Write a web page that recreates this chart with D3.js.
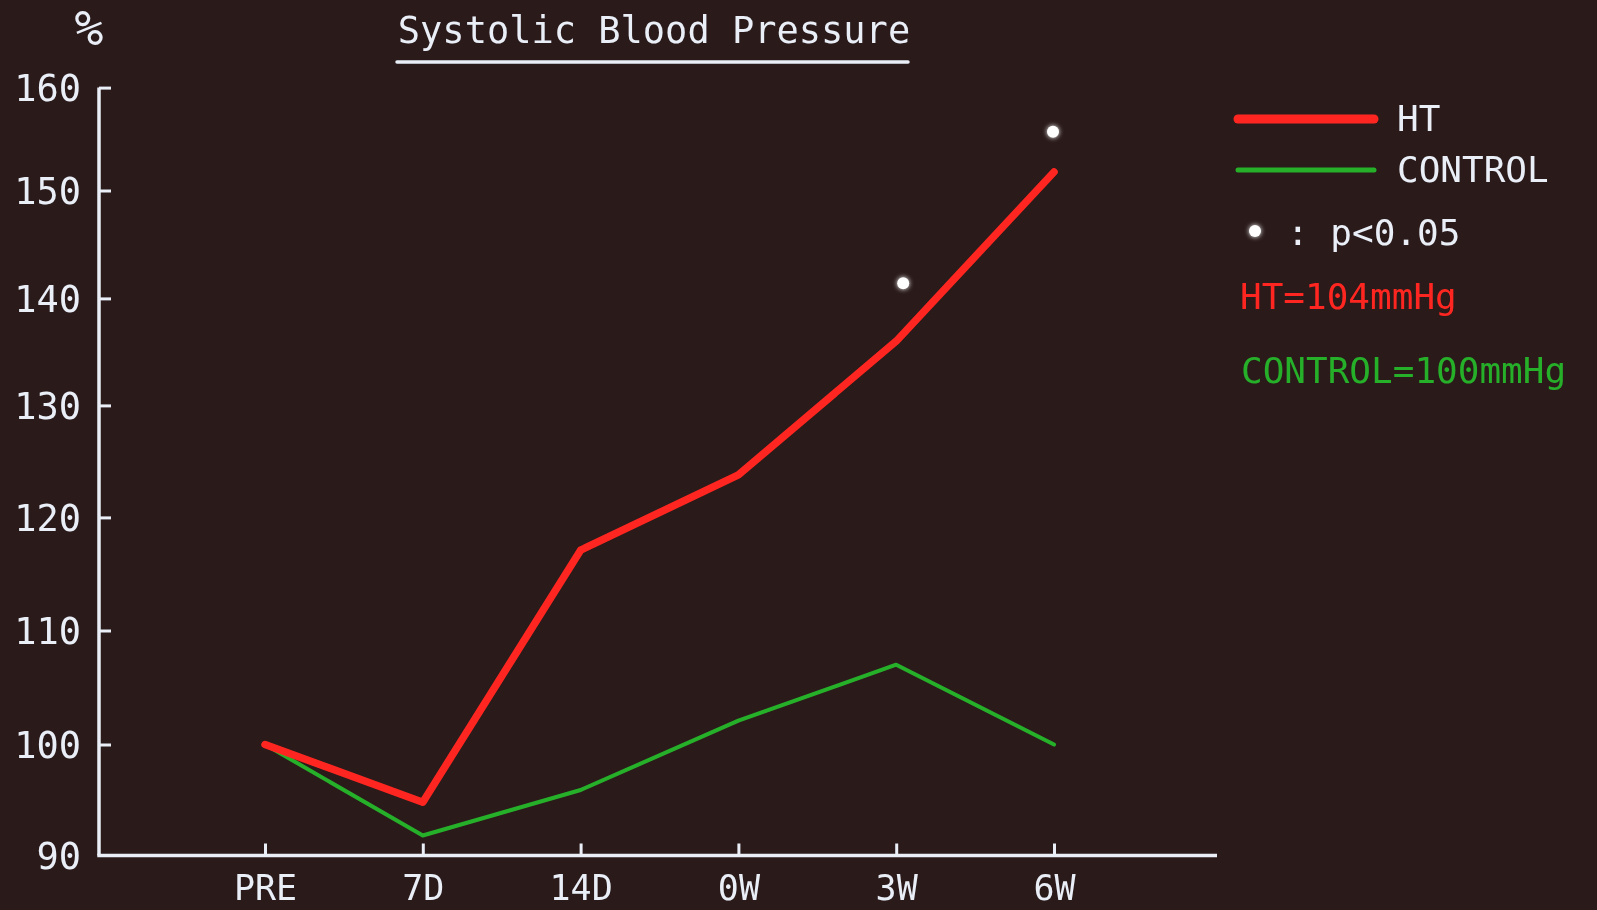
<!DOCTYPE html>
<html>
<head>
<meta charset="utf-8">
<script src="https://cdn.jsdelivr.net/npm/d3@7/dist/d3.min.js"></script>
<style>
  html, body { margin: 0; padding: 0; background: #2a1a1a; }
  svg { display: block; }
</style>
</head>
<body>
<svg id="chart" width="1597" height="910"></svg>
<script>
// Time points after the start of treatment
const categories = ["PRE", "7D", "14D", "0W", "3W", "6W"];

// Systolic blood pressure, % of the pre-treatment value
const htValues      = [100, 94.8, 117.1, 123.8, 136.0, 151.8];
const controlValues = [100, 91.8, 95.9, 102.1, 107.0, 100.0];

// Significance markers (p<0.05) placed just above the HT series
const sigCategories = ["3W", "6W"];
const sigLevels     = [141.4, 155.7];

// Y axis ticks
const yTicks = [90, 100, 110, 120, 130, 140, 150, 160];

// Baseline pressures
const htBaseline = "HT=104mmHg";
const controlBaseline = "CONTROL=100mmHg";

const W = 1597, H = 910;
const svg = d3.select("#chart");
const FONT = "'DejaVu Sans Mono', 'Liberation Mono', monospace";
const WHITE = "#e9eef7";
const RED = "#ff2820";
const GREEN = "#27b02a";

svg.append("rect").attr("width", W).attr("height", H).attr("fill", "#2a1a1a");

const defs = svg.append("defs");
const soft = defs.append("filter").attr("id", "soft")
  .attr("x", "-5%").attr("y", "-5%").attr("width", "110%").attr("height", "110%");
soft.append("feGaussianBlur").attr("stdDeviation", 0.6);
const glow = defs.append("filter").attr("id", "glow")
  .attr("x", "-100%").attr("y", "-100%").attr("width", "300%").attr("height", "300%");
glow.append("feGaussianBlur").attr("in", "SourceGraphic").attr("stdDeviation", 2.5).attr("result", "b");
const gm = glow.append("feMerge");
gm.append("feMergeNode").attr("in", "b");
gm.append("feMergeNode").attr("in", "SourceGraphic");

const g = svg.append("g").attr("filter", "url(#soft)");

// Scales: the vertical axis of the display is slightly stretched toward the bottom
const axisX0 = 99, axisX1 = 1217, axisY = 855.5;
const yTickPos = [855.5, 744.5, 630.5, 517.4, 405.4, 298.4, 190.5, 87.6];
const y = d3.scaleLinear().domain(yTicks).range(yTickPos);
const x = d3.scalePoint().domain(categories).range([265, 1054]);

// Axis lines
g.append("line").attr("x1", axisX0).attr("x2", axisX0)
  .attr("y1", axisY).attr("y2", y(160))
  .attr("stroke", WHITE).attr("stroke-width", 3.5);
g.append("line").attr("x1", axisX0 - 1.7).attr("x2", axisX1)
  .attr("y1", axisY).attr("y2", axisY)
  .attr("stroke", WHITE).attr("stroke-width", 3.5);

// Y axis
const yAxis = g.append("g").attr("transform", `translate(${axisX0},0)`)
  .call(d3.axisLeft(y).tickValues(yTicks).tickFormat(d3.format("d"))
    .tickSizeInner(-12).tickSizeOuter(0).tickPadding(18));
yAxis.select(".domain").remove();
yAxis.selectAll(".tick line").attr("stroke", WHITE).attr("stroke-width", 3);
yAxis.selectAll(".tick").filter(d => d === 90).select("line").remove();
yAxis.selectAll(".tick text")
  .attr("fill", WHITE).attr("font-family", FONT).attr("font-size", 37)
  .attr("dy", "0.36em");

// X axis
const xAxis = g.append("g").attr("transform", `translate(0,${axisY})`)
  .call(d3.axisBottom(x).tickSizeInner(-12).tickSizeOuter(0).tickPadding(0));
xAxis.select(".domain").remove();
xAxis.selectAll(".tick line").attr("stroke", WHITE).attr("stroke-width", 3);
xAxis.selectAll(".tick text")
  .attr("fill", WHITE).attr("font-family", FONT).attr("font-size", 35)
  .attr("dy", null).attr("y", 44);

// Percent unit
g.append("text").attr("x", 89).attr("y", 45).attr("text-anchor", "middle")
  .attr("fill", WHITE).attr("font-family", FONT).attr("font-size", 48)
  .text("%");

// Title with underline
g.append("text").attr("x", 654).attr("y", 43).attr("text-anchor", "middle")
  .attr("fill", WHITE).attr("font-family", FONT).attr("font-size", 37)
  .text("Systolic Blood Pressure");
g.append("line").attr("x1", 397).attr("x2", 908).attr("y1", 62).attr("y2", 62)
  .attr("stroke", WHITE).attr("stroke-width", 3.5).attr("stroke-linecap", "round");

// Series lines
const line = d3.line().x((d, i) => x(categories[i])).y(d => y(d));
g.append("path").datum(controlValues).attr("d", line)
  .attr("fill", "none").attr("stroke", GREEN).attr("stroke-width", 4)
  .attr("stroke-linejoin", "round").attr("stroke-linecap", "round");
g.append("path").datum(htValues).attr("d", line)
  .attr("fill", "none").attr("stroke", RED).attr("stroke-width", 7.5)
  .attr("stroke-linejoin", "round").attr("stroke-linecap", "round");

// Significance dots
svg.selectAll(".sig").data(sigCategories).join("circle")
  .attr("class", "sig")
  .attr("cx", (d, i) => x(d) + (i === 0 ? 7 : -1))
  .attr("cy", (d, i) => y(sigLevels[i]))
  .attr("r", 6).attr("fill", "#ffffff").attr("filter", "url(#glow)");

// Legend
const lx0 = 1238, lx1 = 1374;
g.append("line").attr("x1", lx0).attr("x2", lx1).attr("y1", 119).attr("y2", 119)
  .attr("stroke", RED).attr("stroke-width", 9).attr("stroke-linecap", "round");
g.append("line").attr("x1", lx0).attr("x2", lx1).attr("y1", 170).attr("y2", 170)
  .attr("stroke", GREEN).attr("stroke-width", 5).attr("stroke-linecap", "round");
g.append("text").attr("x", 1397).attr("y", 131)
  .attr("fill", WHITE).attr("font-family", FONT).attr("font-size", 36).text("HT");
g.append("text").attr("x", 1397).attr("y", 182)
  .attr("fill", WHITE).attr("font-family", FONT).attr("font-size", 36).text("CONTROL");
svg.append("circle").attr("cx", 1255).attr("cy", 231).attr("r", 6)
  .attr("fill", "#ffffff").attr("filter", "url(#glow)");
g.append("text").attr("x", 1287).attr("y", 245)
  .attr("fill", WHITE).attr("font-family", FONT).attr("font-size", 36).text(": p<0.05");
g.append("text").attr("x", 1240).attr("y", 309)
  .attr("fill", RED).attr("font-family", FONT).attr("font-size", 36).text(htBaseline);
g.append("text").attr("x", 1241).attr("y", 383)
  .attr("fill", GREEN).attr("font-family", FONT).attr("font-size", 36).text(controlBaseline);
</script>
</body>
</html>
